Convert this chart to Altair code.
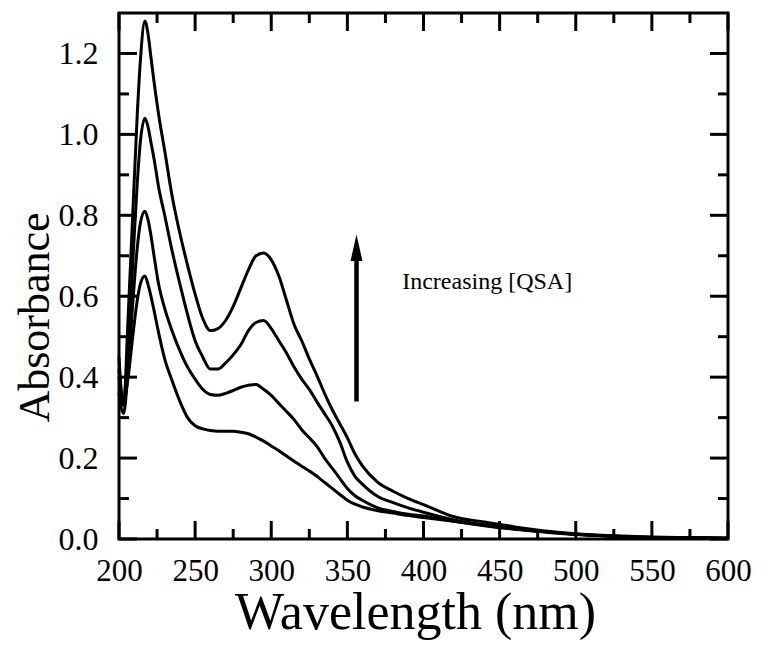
import altair as alt
import pandas as pd

wavelength = [200, 203, 206, 209, 212, 214, 217, 219, 221, 223, 226, 230, 235, 240, 245, 250,
              255, 260, 265, 270, 275, 280, 285, 290, 295, 300, 305, 310, 315, 320, 325, 330,
              335, 340, 345, 350, 355, 360, 370, 380, 390, 400, 420, 440, 460, 480, 500, 525,
              550, 575, 600]

abs_1 = [0.42, 0.34, 0.40, 0.50, 0.59, 0.63, 0.65, 0.63, 0.60, 0.565, 0.51, 0.445, 0.39, 0.34,
         0.30, 0.28, 0.272, 0.268, 0.266, 0.266, 0.266, 0.264, 0.26, 0.252, 0.242, 0.23, 0.218,
         0.205, 0.192, 0.18, 0.168, 0.155, 0.14, 0.125, 0.11, 0.096, 0.086, 0.079, 0.07, 0.064,
         0.058, 0.053, 0.044, 0.034, 0.025, 0.018, 0.012, 0.007, 0.004, 0.003, 0.002]

abs_2 = [0.36, 0.31, 0.42, 0.58, 0.72, 0.78, 0.81, 0.79, 0.75, 0.70, 0.63, 0.57, 0.513, 0.465,
         0.425, 0.395, 0.37, 0.357, 0.355, 0.36, 0.367, 0.375, 0.38, 0.382, 0.37, 0.355, 0.335,
         0.315, 0.295, 0.27, 0.25, 0.229, 0.2, 0.175, 0.15, 0.125, 0.107, 0.095, 0.077, 0.068,
         0.061, 0.057, 0.044, 0.033, 0.024, 0.017, 0.011, 0.007, 0.004, 0.003, 0.002]

abs_3 = [0.40, 0.34, 0.48, 0.68, 0.88, 0.98, 1.04, 1.02, 0.98, 0.94, 0.87, 0.80, 0.71, 0.63,
         0.555, 0.49, 0.45, 0.42, 0.42, 0.435, 0.455, 0.48, 0.515, 0.535, 0.54, 0.52, 0.49,
         0.46, 0.425, 0.395, 0.37, 0.339, 0.31, 0.28, 0.24, 0.19, 0.155, 0.135, 0.105, 0.09,
         0.077, 0.066, 0.047, 0.035, 0.026, 0.018, 0.012, 0.007, 0.004, 0.003, 0.002]

abs_4 = [0.45, 0.33, 0.55, 0.80, 1.05, 1.18, 1.28, 1.25, 1.19, 1.13, 1.05, 0.96, 0.845, 0.755,
         0.677, 0.605, 0.545, 0.515, 0.52, 0.54, 0.575, 0.62, 0.665, 0.70, 0.707, 0.69, 0.65,
         0.59, 0.53, 0.49, 0.445, 0.404, 0.36, 0.32, 0.285, 0.25, 0.21, 0.18, 0.14, 0.118,
         0.10, 0.085, 0.055, 0.042, 0.03, 0.02, 0.013, 0.008, 0.005, 0.003, 0.002]

series = {"s1": abs_1, "s2": abs_2, "s3": abs_3, "s4": abs_4}

x_major = [200, 250, 300, 350, 400, 450, 500, 550, 600]
x_minor = [225, 275, 325, 375, 425, 475, 525, 575]
y_major = [0.0, 0.2, 0.4, 0.6, 0.8, 1.0, 1.2]
y_minor = [0.1, 0.3, 0.5, 0.7, 0.9, 1.1]

arrow_x = [356]
arrow_y0 = [0.34]
arrow_y1 = [0.70]
arrow_head_y = [0.72]
note_text = ["Increasing [QSA]"]
note_x = [386]
note_y = [0.618]

W, H = 609, 526
FONT = "Liberation Serif"

rows = []
for name, vals in series.items():
    for w, a in zip(wavelength, vals):
        rows.append({"wavelength": w, "absorbance": a, "series": name})
df = pd.DataFrame(rows)

xs = alt.Scale(domain=[200, 600], nice=False)
ys = alt.Scale(domain=[0, 1.3], nice=False)

lines = alt.Chart(df).mark_line(color="black", strokeWidth=3, interpolate="monotone").encode(
    x=alt.X("wavelength:Q", scale=xs,
            axis=alt.Axis(title="Wavelength (nm)", values=x_major, format="d", ticks=False,
                          tickSize=0, domain=False, grid=False, labelFont=FONT, labelFontSize=31,
                          labelColor="black", labelPadding=17, labelFlush=False,
                          labelOverlap=False,
                          titleFont=FONT, titleFontSize=52, titleFontWeight="normal",
                          titleColor="black", titleX=296, titleY=89,
                          titleBaseline="alphabetic", titleAlign="center")),
    y=alt.Y("absorbance:Q", scale=ys,
            axis=alt.Axis(title="Absorbance", values=y_major, format=".1f", ticks=False,
                          tickSize=0, domain=False, grid=False, labelFont=FONT, labelFontSize=32,
                          labelColor="black", labelPadding=21, labelFlush=False,
                          labelOverlap=False,
                          titleFont=FONT, titleFontSize=44, titleFontWeight="normal",
                          titleColor="black", titleX=-71, titleY=304, titleAngle=-90,
                          titleBaseline="alphabetic", titleAlign="center")),
    detail="series:N",
)

def xticks(vals, length, bottom):
    d = pd.DataFrame({"v": vals})
    if bottom:
        yy, yy2 = alt.value(H), alt.value(H - length)
    else:
        yy, yy2 = alt.value(0), alt.value(length)
    return alt.Chart(d).mark_rule(color="black", strokeWidth=3).encode(
        x=alt.X("v:Q", scale=xs), y=yy, y2=yy2)

def yticks(vals, length, left):
    d = pd.DataFrame({"v": vals})
    if left:
        xx, xx2 = alt.value(0), alt.value(length)
    else:
        xx, xx2 = alt.value(W), alt.value(W - length)
    return alt.Chart(d).mark_rule(color="black", strokeWidth=3).encode(
        y=alt.Y("v:Q", scale=ys), x=xx, x2=xx2)

ticks = [
    xticks(x_major, 18, True), xticks(x_minor, 10, True),
    xticks(x_major, 18, False), xticks(x_minor, 10, False),
    yticks(y_major, 18, True), yticks(y_minor, 10, True),
    yticks(y_major, 18, False), yticks(y_minor, 10, False),
]

arrow_df = pd.DataFrame({"x": arrow_x, "y0": arrow_y0, "y1": arrow_y1, "yh": arrow_head_y})
arrow_shaft = alt.Chart(arrow_df).mark_rule(color="black", strokeWidth=4.5).encode(
    x=alt.X("x:Q", scale=xs), y=alt.Y("y0:Q", scale=ys), y2="y1:Q")
arrow_head = alt.Chart(arrow_df).mark_point(
    shape="M0,-1L0.45,1L-0.45,1Z", filled=True, color="black", size=700, opacity=1
).encode(x=alt.X("x:Q", scale=xs), y=alt.Y("yh:Q", scale=ys))

note_df = pd.DataFrame({"t": note_text, "x": note_x, "y": note_y})
note = alt.Chart(note_df).mark_text(
    font=FONT, fontSize=24, align="left", baseline="alphabetic", color="black"
).encode(x=alt.X("x:Q", scale=xs), y=alt.Y("y:Q", scale=ys), text="t:N")

chart = alt.layer(lines, *ticks, arrow_shaft, arrow_head, note).properties(
    width=W, height=H,
    background="white",
    autosize=alt.AutoSizeParams(type="none"),
    padding={"left": 111, "top": 5, "right": 27, "bottom": 104},
).configure_view(stroke="black", strokeWidth=3)

chart.save("out.html", embed_options={"renderer": "svg", "actions": False})
